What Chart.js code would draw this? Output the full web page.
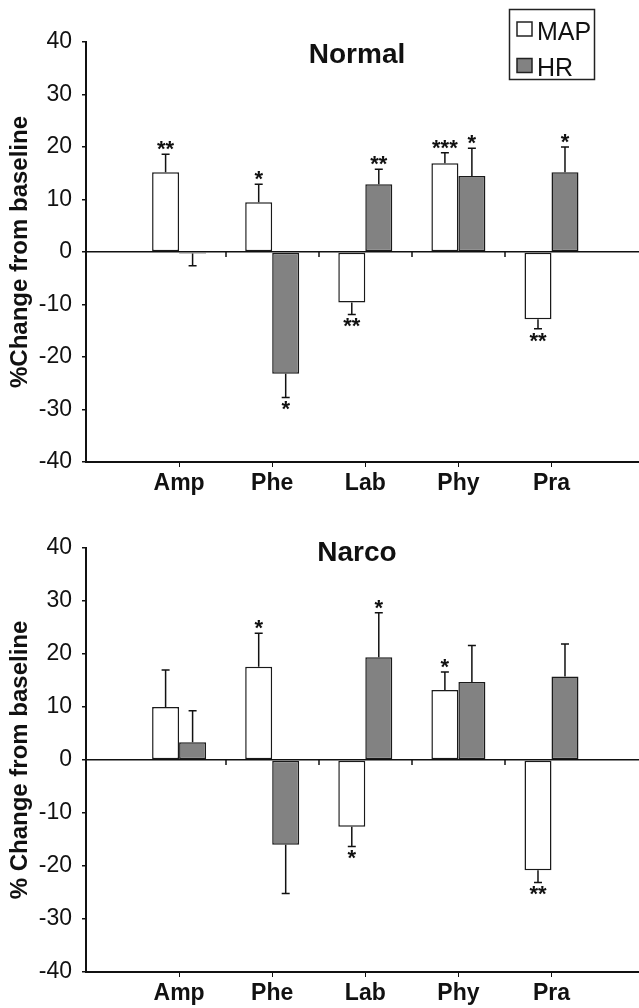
<!DOCTYPE html>
<html>
<head>
<meta charset="utf-8">
<script src="https://cdn.jsdelivr.net/npm/chart.js@4.4.0/dist/chart.umd.min.js"></script>
<style>
  body { margin: 0; background: #fff; }
  canvas { position: absolute; left: 0; }
</style>
</head>
<body>
<canvas id="normal" width="639" height="504" style="top:0px"></canvas>
<canvas id="narco" width="639" height="504" style="top:504px"></canvas>
<script>
// categories and tick values
var drugs = ["Amp", "Phe", "Lab", "Phy", "Pra"];
var yTicks = [-40, -30, -20, -10, 0, 10, 20, 30, 40];

// Normal group
var normalMAP = [15.2, 9.5, -9.6, 16.9, -12.8];
var normalMAPErr = [3.4, 3.4, 2.3, 2.0, 1.8];
var normalHR = [-0.3, -23.2, 12.9, 14.5, 15.2];
var normalHRErr = [2.3, 4.5, 2.85, 5.25, 4.8];
var normalMAPStars = ["**", "*", "**", "***", "**"];
var normalHRStars = ["", "*", "**", "*", "*"];

// Narco group
var narcoMAP = [10.0, 17.6, -12.6, 13.2, -20.8];
var narcoMAPErr = [7.0, 6.3, 3.7, 3.4, 2.3];
var narcoHR = [3.35, -16.0, 19.4, 14.7, 15.75];
var narcoHRErr = [5.95, 9.2, 8.4, 6.9, 6.15];
var narcoMAPStars = ["", "*", "*", "*", "**"];
var narcoHRStars = ["", "", "*", "", ""];

var FONT = '"Liberation Sans", Arial, Helvetica, sans-serif';
Chart.defaults.font.family = FONT;
Chart.defaults.color = "#111";

function points(vals) {
  return vals.map(function(v, i) { return {x: i, y: v}; });
}

// error bars + significance stars
var errorBars = {
  id: "errorBars",
  afterDatasetsDraw: function(chart) {
    var ctx = chart.ctx, ys = chart.scales.y;
    chart.data.datasets.forEach(function(ds, di) {
      var meta = chart.getDatasetMeta(di);
      meta.data.forEach(function(bar, i) {
        var v = ds.data[i].y, e = ds.errors[i];
        var sign = v < 0 ? -1 : 1;
        var yEnd = ys.getPixelForValue(v + sign * e);
        ctx.save();
        ctx.strokeStyle = "#111";
        ctx.lineWidth = 1.5;
        ctx.beginPath();
        ctx.moveTo(bar.x, bar.y);
        ctx.lineTo(bar.x, yEnd);
        ctx.moveTo(bar.x - 4, yEnd);
        ctx.lineTo(bar.x + 4, yEnd);
        ctx.stroke();
        var s = ds.stars[i];
        if (s) {
          ctx.font = "bold 22px " + FONT;
          ctx.fillStyle = "#111";
          ctx.textAlign = "center";
          var m = ctx.measureText(s);
          var by = sign > 0 ? yEnd - 4 - m.actualBoundingBoxDescent
                             : yEnd + 4 + m.actualBoundingBoxAscent;
          ctx.fillText(s, bar.x, by);
        }
        ctx.restore();
      });
    });
  }
};

// little ticks hanging off the zero line between categories
var zeroTicks = {
  id: "zeroTicks",
  afterDraw: function(chart) {
    var ctx = chart.ctx, xs = chart.scales.x, y0 = chart.scales.y.getPixelForValue(0);
    ctx.save();
    ctx.strokeStyle = "#111";
    ctx.lineWidth = 1.5;
    for (var i = 0; i < drugs.length - 1; i++) {
      var x = Math.round(xs.getPixelForValue(i + 0.5));
      ctx.beginPath();
      ctx.moveTo(x, y0);
      ctx.lineTo(x, y0 + 5);
      ctx.stroke();
    }
    ctx.restore();
  }
};

var panelTitle = {
  id: "panelTitle",
  afterDraw: function(chart, args, o) {
    var ctx = chart.ctx;
    ctx.save();
    ctx.font = "bold 28px " + FONT;
    ctx.fillStyle = "#111";
    ctx.textAlign = "center";
    ctx.fillText(o.text, o.x, o.y);
    ctx.restore();
  }
};

var boxLegend = {
  id: "boxLegend",
  afterDraw: function(chart, args, o) {
    if (!o.show) return;
    var ctx = chart.ctx;
    ctx.save();
    ctx.strokeStyle = "#222";
    ctx.lineWidth = 1.5;
    ctx.strokeRect(509.5, 9.5, 85, 70);
    ctx.font = "25px " + FONT;
    ctx.textAlign = "left";
    chart.data.datasets.forEach(function(ds, i) {
      var top = 22 + i * 36.5;
      ctx.fillStyle = ds.backgroundColor;
      ctx.fillRect(517, top, 15, 14);
      ctx.strokeRect(517, top, 15, 14);
      ctx.fillStyle = "#111";
      ctx.fillText(ds.label, 537, top + 17.5);
    });
    ctx.restore();
  }
};

function makeChart(id, cfg) {
  return new Chart(document.getElementById(id), {
    type: "bar",
    data: {
      datasets: [
        {label: "MAP", data: points(cfg.map), errors: cfg.mapErr, stars: cfg.mapStars,
         backgroundColor: "#ffffff", borderColor: "#1a1a1a", borderWidth: 1.5, borderSkipped: false},
        {label: "HR", data: points(cfg.hr), errors: cfg.hrErr, stars: cfg.hrStars,
         backgroundColor: "#828282", borderColor: "#1a1a1a", borderWidth: 1.5, borderSkipped: false}
      ]
    },
    options: {
      responsive: false,
      animation: false,
      devicePixelRatio: 1,
      categoryPercentage: 0.58,
      barPercentage: 1.0,
      layout: {padding: {top: cfg.top, right: 0, left: 0, bottom: 0}},
      plugins: {
        legend: {display: false},
        tooltip: {enabled: false},
        panelTitle: {text: cfg.title, x: 357, y: cfg.titleY},
        boxLegend: {show: cfg.legend}
      },
      scales: {
        x: {
          type: "linear",
          min: -1,
          max: 4.94,
          offset: false,
          afterBuildTicks: function(scale) {
            scale.ticks = drugs.map(function(d, i) { return {value: i}; });
          },
          afterFit: function(scale) { scale.height = cfg.xHeight; },
          ticks: {
            callback: function(v) { return drugs[v]; },
            font: {size: 23, weight: "bold"},
            color: "#111",
            padding: 3,
            maxRotation: 0,
            autoSkip: false
          },
          grid: {drawOnChartArea: false, drawTicks: true, tickLength: 5, tickColor: "#111", offset: false},
          border: {display: true, color: "#111", width: 2}
        },
        y: {
          min: -40,
          max: 40,
          afterBuildTicks: function(scale) {
            scale.ticks = yTicks.map(function(v) { return {value: v}; });
          },
          afterFit: function(scale) { scale.width = 86; },
          ticks: {font: {size: 23}, color: "#111", padding: 10},
          grid: {
            drawOnChartArea: true,
            color: function(c) { return c.tick && c.tick.value === 0 ? "#111" : "rgba(0,0,0,0)"; },
            lineWidth: 1.5,
            tickLength: 4,
            tickColor: "#111"
          },
          border: {display: true, color: "#111", width: 2},
          title: {display: true, text: cfg.yTitle, font: {size: 24, weight: "bold"}, color: "#111", padding: {top: 6, bottom: 0}}
        }
      }
    },
    plugins: [errorBars, zeroTicks, panelTitle, boxLegend]
  });
}

makeChart("normal", {
  title: "Normal", titleY: 62.5, legend: true, top: 42, xHeight: 42,
  yTitle: "%Change from baseline",
  map: normalMAP, mapErr: normalMAPErr, mapStars: normalMAPStars,
  hr: normalHR, hrErr: normalHRErr, hrStars: normalHRStars
});

makeChart("narco", {
  title: "Narco", titleY: 57, legend: false, top: 44, xHeight: 36,
  yTitle: "% Change from baseline",
  map: narcoMAP, mapErr: narcoMAPErr, mapStars: narcoMAPStars,
  hr: narcoHR, hrErr: narcoHRErr, hrStars: narcoHRStars
});
</script>
</body>
</html>
